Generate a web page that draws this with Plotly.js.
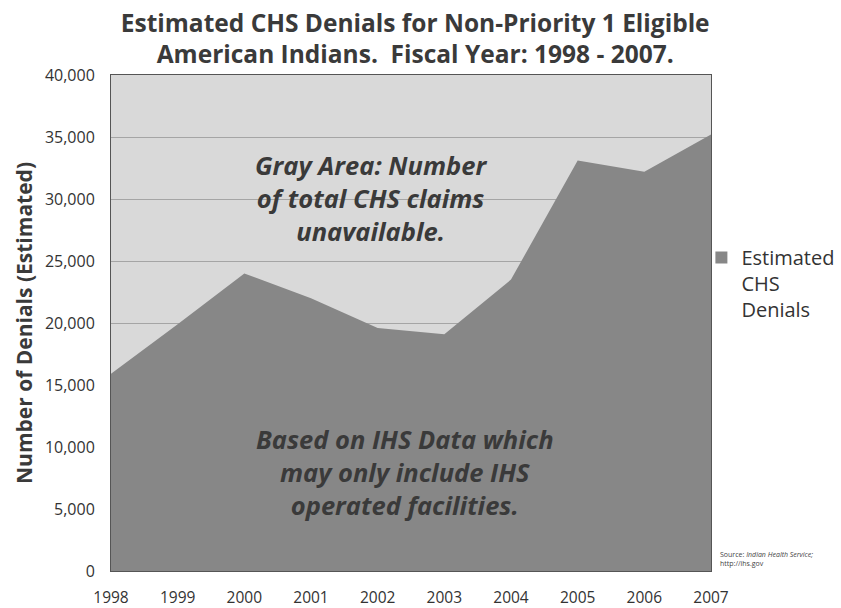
<!DOCTYPE html>
<html>
<head>
<meta charset="utf-8">
<script src="https://cdn.plot.ly/plotly-3.0.1.min.js"></script>
<style>html,body{margin:0;padding:0;background:#fff;}#chart{width:841px;height:608px;}</style>
</head>
<body>
<div id="chart"></div>
<script>
const years = [1998, 1999, 2000, 2001, 2002, 2003, 2004, 2005, 2006, 2007];
const denials = [15900, 19900, 24000, 22000, 19600, 19100, 23500, 33100, 32200, 35200];
const seriesName = "Estimated<br>CHS<br>Denials";
const yTicks = [0, 5000, 10000, 15000, 20000, 25000, 30000, 35000, 40000];

const FONT = "'Open Sans', Lato, 'DejaVu Sans', sans-serif";
const GRAY = "#878787";

const areaTrace = {
  x: years,
  y: denials,
  type: "scatter",
  mode: "lines",
  fill: "tozeroy",
  fillcolor: GRAY,
  line: {color: GRAY, width: 0},
  name: seriesName,
  showlegend: false,
  hoverinfo: "x+y"
};

// legend-only entry with a square swatch, like the reference
const legendTrace = {
  x: [null],
  y: [null],
  type: "scatter",
  mode: "markers",
  marker: {symbol: "square", size: 12, color: GRAY},
  name: seriesName,
  showlegend: true,
  hoverinfo: "skip"
};

const layout = {
  width: 841,
  height: 608,
  paper_bgcolor: "#ffffff",
  plot_bgcolor: "#d9d9d9",
  margin: {l: 111, r: 130, t: 75, b: 37, autoexpand: false},
  font: {family: FONT, color: "#333333"},
  title: {
    text: "<b>Estimated CHS Denials for Non-Priority 1 Eligible<br>American Indians.  Fiscal Year: 1998 - 2007.</b>",
    font: {family: FONT, size: 24.5, color: "#3a3a3a"},
    x: 0.507, xanchor: "center", xref: "paper",
    y: 0.948, yanchor: "middle", yref: "container"
  },
  xaxis: {
    range: [1998, 2007],
    tickmode: "array",
    tickvals: years,
    ticktext: years.map(String),
    ticks: "",
    showgrid: false,
    zeroline: false,
    showline: true,
    linecolor: "#555555",
    linewidth: 1,
    mirror: true,
    tickfont: {size: 15.5, color: "#333333"},
    ticklabelstandoff: 12
  },
  yaxis: {
    range: [0, 40000],
    tickmode: "array",
    tickvals: yTicks,
    ticktext: yTicks.map(v => v.toLocaleString("en-US")),
    ticks: "",
    showgrid: true,
    gridcolor: "#a5a5a5",
    gridwidth: 1,
    zeroline: false,
    showline: true,
    linecolor: "#555555",
    linewidth: 1,
    mirror: true,
    tickfont: {size: 16, color: "#333333"},
    ticklabelstandoff: 12,
    title: {
      text: "<b>Number of Denials (Estimated)</b>",
      font: {family: FONT, size: 21, color: "#3a3a3a"},
      standoff: 6
    }
  },
  showlegend: true,
  legend: {
    xref: "container", yref: "container",
    x: 0.834, xanchor: "left",
    y: 0.6086, yanchor: "top",
    font: {size: 20, color: "#333333"},
    bgcolor: "rgba(0,0,0,0)",
    valign: "top",
    itemwidth: 30
  },
  annotations: [
    {
      text: "<b><i>Gray Area: Number<br>of total CHS claims<br>unavailable.</i></b>",
      xref: "paper", yref: "paper",
      x: 0.433, y: 0.752, xanchor: "center", yanchor: "middle",
      showarrow: false, align: "center",
      font: {family: FONT, size: 25.5, color: "#3a3a3a"}
    },
    {
      text: "<b><i>Based on IHS Data which<br>may only include IHS<br>operated facilities.</i></b>",
      xref: "paper", yref: "paper",
      x: 0.49, y: 0.2, xanchor: "center", yanchor: "middle",
      showarrow: false, align: "center",
      font: {family: FONT, size: 25.5, color: "#3a3a3a"}
    },
    {
      text: "Source: <i>Indian Health Service;</i><br>http://ihs.gov",
      xref: "paper", yref: "paper",
      x: 1.012, y: 0.025, xanchor: "left", yanchor: "middle",
      showarrow: false, align: "left",
      font: {family: FONT, size: 7, color: "#444444"}
    }
  ]
};

Plotly.newPlot("chart", [areaTrace, legendTrace], layout, {displayModeBar: false, staticPlot: true});
</script>
</body>
</html>
